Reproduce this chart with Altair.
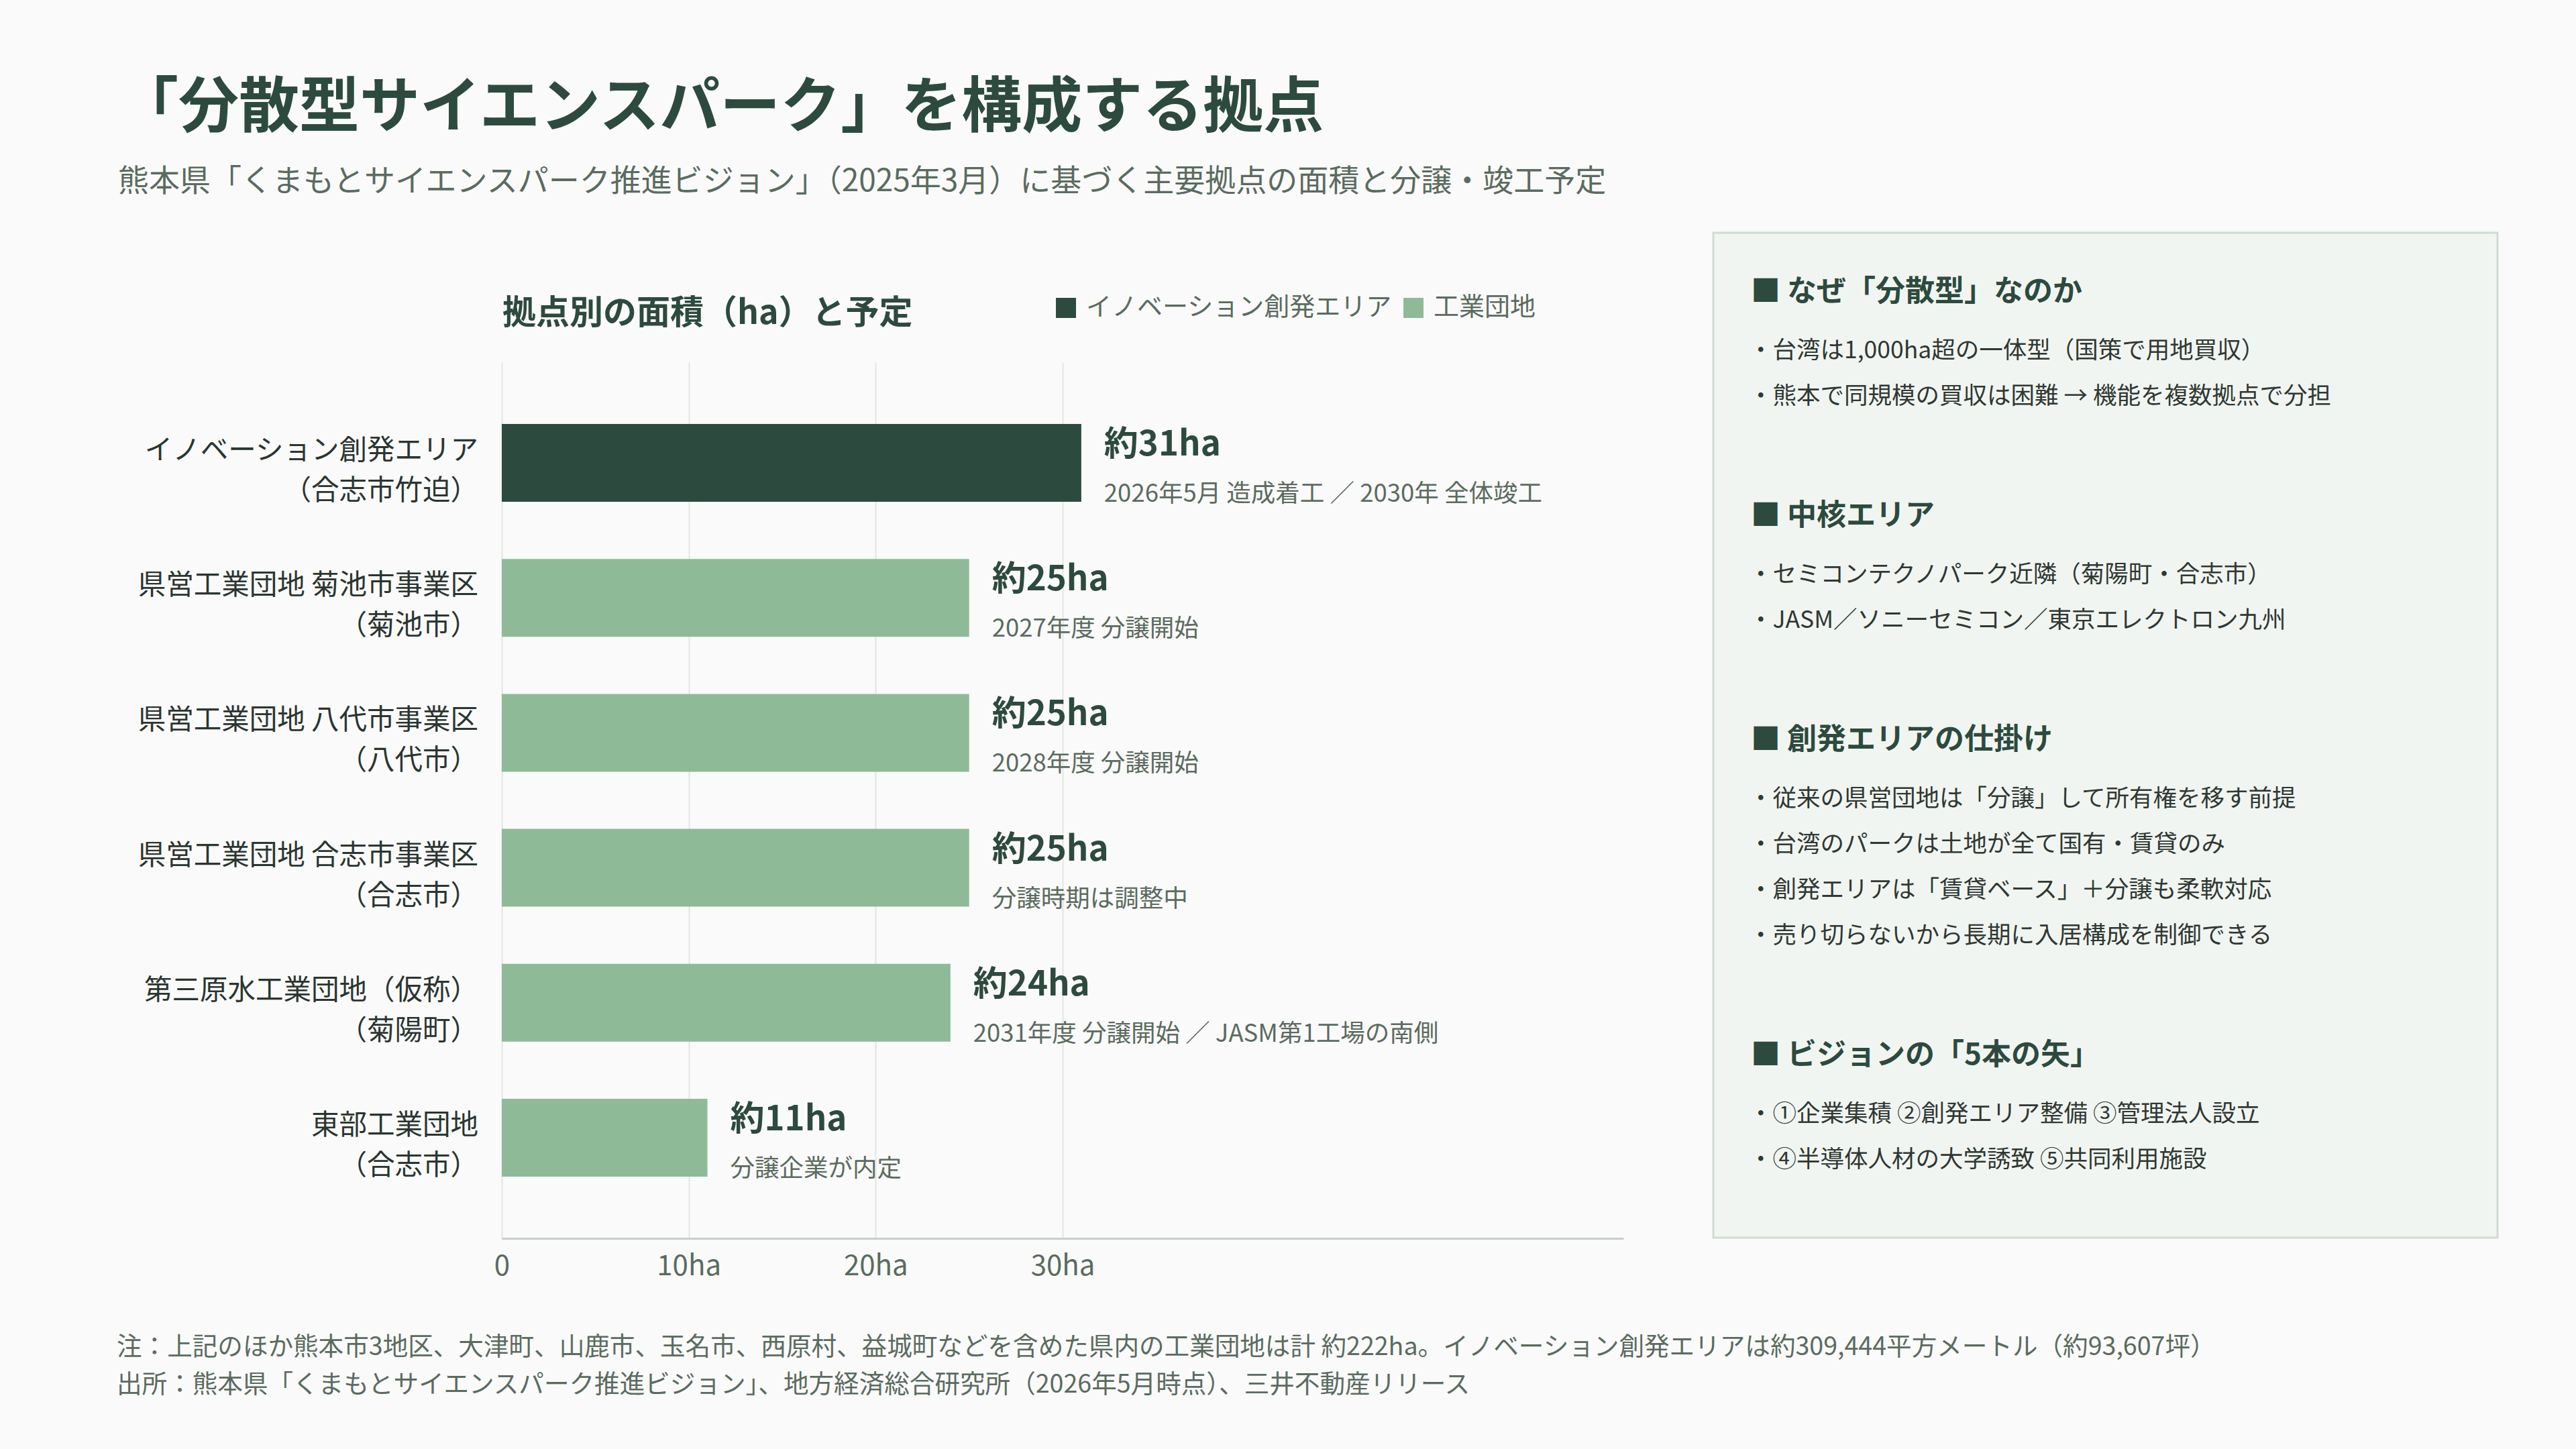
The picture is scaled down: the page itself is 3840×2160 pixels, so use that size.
import altair as alt
import pandas as pd

FONT = "Noto Sans CJK JP"

# ---------------- data ----------------
categories = [
    "イノベーション創発エリア",
    "県営工業団地 菊池市事業区",
    "県営工業団地 八代市事業区",
    "県営工業団地 合志市事業区",
    "第三原水工業団地（仮称）",
    "東部工業団地",
]
locations = ["（合志市竹迫）", "（菊池市）", "（八代市）", "（合志市）", "（菊陽町）", "（合志市）"]
areas = [31, 25, 25, 25, 24, 11]
value_labels = ["約31ha", "約25ha", "約25ha", "約25ha", "約24ha", "約11ha"]
schedules = [
    "2026年5月 造成着工 ／ 2030年 全体竣工",
    "2027年度 分譲開始",
    "2028年度 分譲開始",
    "分譲時期は調整中",
    "2031年度 分譲開始 ／ JASM第1工場の南側",
    "分譲企業が内定",
]
type_names = ["イノベーション創発エリア", "工業団地"]
types = [type_names[0]] + [type_names[1]] * 5
x_ticks = [0, 10, 20, 30]

title_text = "「分散型サイエンスパーク」を構成する拠点"
subtitle_text = "熊本県「くまもとサイエンスパーク推進ビジョン」（2025年3月）に基づく主要拠点の面積と分譲・竣工予定"
chart_title = "拠点別の面積（ha）と予定"

panel_headings = ["■ なぜ「分散型」なのか", "■ 中核エリア", "■ 創発エリアの仕掛け", "■ ビジョンの「5本の矢」"]
panel_bullets = [
    ["・台湾は1,000ha超の一体型（国策で用地買収）", "・熊本で同規模の買収は困難 → 機能を複数拠点で分担"],
    ["・セミコンテクノパーク近隣（菊陽町・合志市）", "・JASM／ソニーセミコン／東京エレクトロン九州"],
    ["・従来の県営団地は「分譲」して所有権を移す前提", "・台湾のパークは土地が全て国有・賃貸のみ",
     "・創発エリアは「賃貸ベース」＋分譲も柔軟対応", "・売り切らないから長期に入居構成を制御できる"],
    ["・①企業集積 ②創発エリア整備 ③管理法人設立", "・④半導体人材の大学誘致 ⑤共同利用施設"],
]
footer_lines = [
    "注：上記のほか熊本市3地区、大津町、山鹿市、玉名市、西原村、益城町などを含めた県内の工業団地は計 約222ha。イノベーション創発エリアは約309,444平方メートル（約93,607坪）",
    "出所：熊本県「くまもとサイエンスパーク推進ビジョン」、地方経済総合研究所（2026年5月時点）、三井不動産リリース",
]

# ---------------- colours ----------------
DARK = "#2d4a3e"
LIGHT = "#8fba98"
GRAY = "#5b6b60"
INK = "#2b3530"

# ---------------- layout ----------------
OX, OY = 748, 540          # plot origin in page pixels
W, H = 1672, 1306          # plot area
PAGE_W, PAGE_H = 3840, 2160

df = pd.DataFrame({
    "name": categories, "loc": locations, "area": areas,
    "label": value_labels, "sched": schedules, "type": types,
})

base = alt.Chart(df)
y_enc = alt.Y("name:N", sort=categories, axis=None,
              scale=alt.Scale(paddingInner=0.4235, paddingOuter=0.457))
x_scale = alt.Scale(domain=[0, 60], nice=False, zero=True)

bars = base.mark_bar().encode(
    x=alt.X("area:Q", scale=x_scale, title=None,
            axis=alt.Axis(values=x_ticks, grid=True, gridColor="#e1e6e2", gridWidth=2,
                          domainColor="#c5cfc7", domainWidth=3, ticks=False,
                          labelFontSize=42, labelColor=GRAY, labelFont=FONT,
                          labelPadding=21, labelFlush=False,
                          labelExpr="datum.value == 0 ? '0' : datum.value + 'ha'")),
    y=y_enc,
    color=alt.Color("type:N", scale=alt.Scale(domain=type_names, range=[DARK, LIGHT]),
                    legend=alt.Legend(orient="none", legendX=822, legendY=-100,
                                      direction="horizontal", title=None,
                                      symbolType="square", symbolSize=900,
                                      symbolStrokeWidth=0, symbolOpacity=1,
                                      labelFontSize=38, labelColor=GRAY, labelFont=FONT,
                                      labelLimit=1000, labelOffset=11, columnPadding=12,
                                      padding=0)),
)

val_text = base.mark_text(align="left", baseline="middle", dx=34, dy=-26, font=FONT,
                          fontSize=51, fontWeight="bold", color=DARK).encode(
    x=alt.X("area:Q", scale=x_scale), y=y_enc, text="label:N")
sched_text = base.mark_text(align="left", baseline="middle", dx=34, dy=47, font=FONT,
                            fontSize=36.5, color=GRAY).encode(
    x=alt.X("area:Q", scale=x_scale), y=y_enc, text="sched:N")
cat_text = base.mark_text(align="right", baseline="middle", dy=-17, font=FONT,
                          fontSize=41.5, color=INK).encode(
    x=alt.value(-35), y=y_enc, text="name:N")
loc_text = base.mark_text(align="right", baseline="middle", dy=43, font=FONT,
                          fontSize=41.5, color=INK).encode(
    x=alt.value(-35), y=y_enc, text="loc:N")

one = alt.Chart(pd.DataFrame({"k": [0]}))


def label(text, px, py, size, color, weight="normal", align="left"):
    return one.mark_text(align=align, baseline="middle", font=FONT, fontSize=size,
                         fontWeight=weight, color=color).encode(
        x=alt.value(px - OX), y=alt.value(py - OY + 0.08 * size), text=alt.value(text))


layers = []
# side panel box
layers.append(one.mark_rect(fill="#f1f5f1", stroke="#cfdcd1", strokeWidth=3).encode(
    x=alt.value(2554 - OX), x2=alt.value(3723 - OX),
    y=alt.value(347 - OY), y2=alt.value(1845 - OY)))

layers += [bars, val_text, sched_text, cat_text, loc_text]

layers.append(label(title_text, 176, 155, 90, DARK, "bold"))
layers.append(label(subtitle_text, 176, 267, 46, GRAY))
layers.append(label(chart_title, 749, 464, 50, DARK, "bold"))

yy = 432
for head, bl in zip(panel_headings, panel_bullets):
    layers.append(label(head, 2610, yy, 44, DARK, "bold"))
    yb = yy + 88
    for b in bl:
        layers.append(label(b, 2607, yb, 35.5, "#2f3833"))
        yb += 68
    yy = yb - 68 + 178

layers.append(label(footer_lines[0], 174, 2006, 37.6, GRAY))
layers.append(label(footer_lines[1], 174, 2062, 37.6, GRAY))

chart = alt.layer(*layers).properties(
    width=W, height=H,
    autosize=alt.AutoSizeParams(type="none"),
    padding={"left": OX, "top": OY, "right": PAGE_W - OX - W, "bottom": PAGE_H - OY - H},
    background="#fafafa",
).configure_view(stroke=None).configure_text(font=FONT)

chart.save("out.html", embed_options={"renderer": "svg", "actions": False})
